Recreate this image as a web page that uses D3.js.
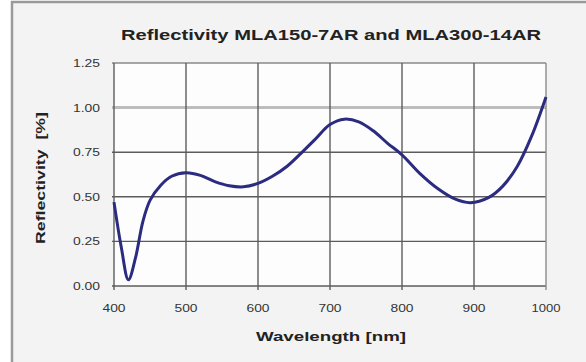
<!DOCTYPE html>
<html>
<head>
<meta charset="utf-8">
<script src="https://cdn.jsdelivr.net/npm/d3@7"></script>
<style>
  body { margin: 0; background: #fff; }
  svg { display: block; }
</style>
</head>
<body>
<div id="chart"></div>
<script>
// values
const wavelength = [400, 410, 420, 430, 440, 450, 465, 480, 500, 520, 540, 560, 580, 600, 620, 640, 660, 680, 700, 720, 740, 760, 780, 800, 825, 850, 875, 895, 920, 940, 960, 980, 1000];
const reflectivity = [0.47, 0.22, 0.035, 0.16, 0.36, 0.48, 0.565, 0.615, 0.635, 0.62, 0.585, 0.562, 0.556, 0.575, 0.615, 0.67, 0.745, 0.825, 0.905, 0.935, 0.92, 0.87, 0.80, 0.735, 0.63, 0.545, 0.485, 0.467, 0.495, 0.56, 0.67, 0.84, 1.06];
const xTicks = [400, 500, 600, 700, 800, 900, 1000];
const yTicks = [0, 0.25, 0.5, 0.75, 1.0, 1.25];

const width = 586, height = 362;
const plot = { left: 114, right: 546, top: 63, bottom: 286 };

const svg = d3.select('#chart').append('svg')
    .attr('width', width)
    .attr('height', height);

// outer frame (only top and left edges visible)
svg.append('rect')
    .attr('x', 12).attr('y', 2)
    .attr('width', width).attr('height', height)
    .attr('fill', '#f3f3f3')
    .attr('stroke', '#9a9a9a')
    .attr('stroke-width', 2.5);

const x = d3.scaleLinear().domain([400, 1000]).range([plot.left, plot.right]);
const y = d3.scaleLinear().domain([0, 1.25]).range([plot.bottom, plot.top]);

// plot background
svg.append('rect')
    .attr('x', plot.left).attr('y', plot.top)
    .attr('width', plot.right - plot.left)
    .attr('height', plot.bottom - plot.top)
    .attr('fill', '#fdfdfd');

// horizontal gridlines
svg.append('g')
    .selectAll('line')
    .data(yTicks)
    .join('line')
    .attr('x1', plot.left - 2).attr('x2', plot.right)
    .attr('y1', d => y(d)).attr('y2', d => y(d))
    .attr('stroke', d => d === 1.0 ? '#bdbdbd' : (d === 1.25 ? '#8a8a8a' : '#5c5c5c'))
    .attr('stroke-width', d => d === 1.0 ? 3 : 1.4);

// vertical gridlines, with short ticks below the axis
svg.append('g')
    .selectAll('line')
    .data(xTicks)
    .join('line')
    .attr('x1', d => x(d)).attr('x2', d => x(d))
    .attr('y1', plot.top).attr('y2', plot.bottom + 4)
    .attr('stroke', d => d === 1000 ? '#8a8a8a' : '#5c5c5c')
    .attr('stroke-width', 1.4);

// tick labels (the reference font is stretched wide, so fix the widths)
const tickFont = '"Liberation Sans", Arial, sans-serif';
svg.append('g')
    .selectAll('text')
    .data(yTicks)
    .join('text')
    .attr('x', 100)
    .attr('y', d => y(d) + 4)
    .attr('text-anchor', 'end')
    .attr('font-family', tickFont)
    .attr('font-size', 11.5)
    .attr('textLength', 27)
    .attr('lengthAdjust', 'spacingAndGlyphs')
    .attr('fill', '#333')
    .text(d => d.toFixed(2));

svg.append('g')
    .selectAll('text')
    .data(xTicks)
    .join('text')
    .attr('x', d => x(d))
    .attr('y', 312)
    .attr('text-anchor', 'middle')
    .attr('font-family', tickFont)
    .attr('font-size', 11.5)
    .attr('textLength', d => String(d).length === 4 ? 29 : 23)
    .attr('lengthAdjust', 'spacingAndGlyphs')
    .attr('fill', '#333')
    .text(d => d);

// the curve
const line = d3.line()
    .x((d, i) => x(wavelength[i]))
    .y(d => y(d))
    .curve(d3.curveCatmullRom.alpha(0.5));

svg.append('path')
    .datum(reflectivity)
    .attr('d', line)
    .attr('fill', 'none')
    .attr('stroke', '#2b2b80')
    .attr('stroke-width', 3)
    .attr('stroke-linejoin', 'round');

// titles
svg.append('text')
    .attr('x', 331).attr('y', 40)
    .attr('text-anchor', 'middle')
    .attr('font-family', tickFont)
    .attr('font-weight', 'bold')
    .attr('font-size', 14.5)
    .attr('textLength', 420)
    .attr('lengthAdjust', 'spacingAndGlyphs')
    .attr('fill', '#222')
    .text('Reflectivity MLA150-7AR and MLA300-14AR');

svg.append('text')
    .attr('x', 331).attr('y', 341)
    .attr('text-anchor', 'middle')
    .attr('font-family', tickFont)
    .attr('font-weight', 'bold')
    .attr('font-size', 13)
    .attr('textLength', 150)
    .attr('lengthAdjust', 'spacingAndGlyphs')
    .attr('fill', '#222')
    .text('Wavelength [nm]');

svg.append('text')
    .attr('transform', 'translate(45,178) rotate(-90)')
    .attr('text-anchor', 'middle')
    .attr('font-family', tickFont)
    .attr('font-weight', 'bold')
    .attr('font-size', 13)
    .attr('textLength', 132)
    .attr('lengthAdjust', 'spacingAndGlyphs')
    .attr('fill', '#222')
    .style('white-space', 'pre')
    .text('Reflectivity  [%]');
</script>
</body>
</html>
